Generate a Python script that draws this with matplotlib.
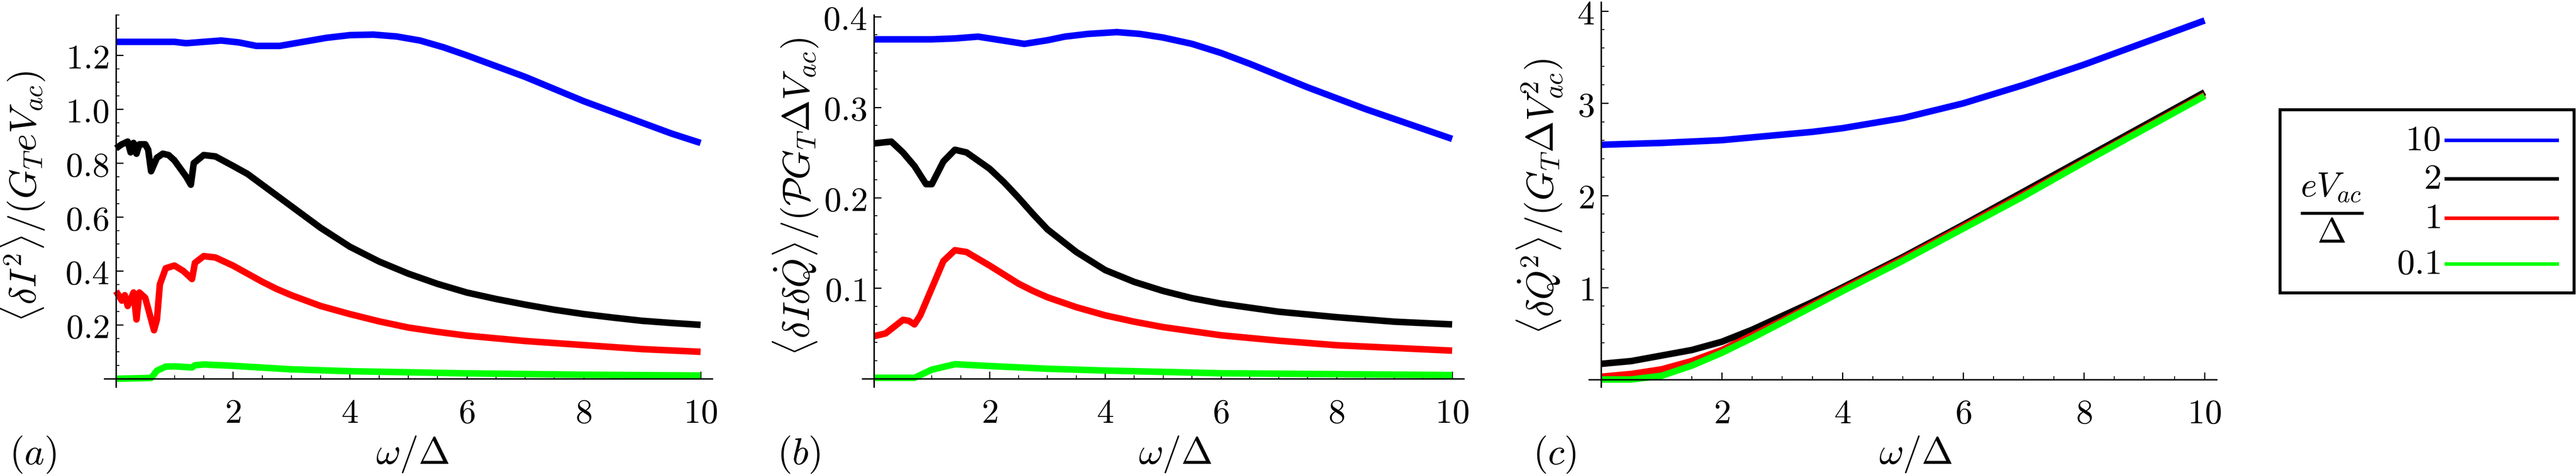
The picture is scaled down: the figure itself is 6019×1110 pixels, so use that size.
import matplotlib
matplotlib.use("Agg")
import matplotlib.pyplot as plt
from matplotlib.ticker import MultipleLocator, FuncFormatter
from matplotlib.lines import Line2D

plt.rcParams['mathtext.fontset'] = 'cm'
plt.rcParams['font.family'] = 'serif'
plt.rcParams['font.serif'] = ['DejaVu Serif']

legend_labels = ["10", "2", "1", "0.1"]
colors = ["#0000ff", "#000000", "#ff0000", "#00ff00"]

# Panel (a)
a_blue_x = [0, 0.5, 1, 1.2, 1.5, 1.8, 2.1, 2.4, 2.8, 3.2, 3.6, 4.0, 4.4, 4.8, 5.2, 5.6, 6, 6.5, 7, 7.5, 8, 8.5, 9, 9.5, 10]
a_blue_y = [1.25, 1.25, 1.25, 1.245, 1.25, 1.255, 1.248, 1.235, 1.235, 1.25, 1.265, 1.275, 1.277, 1.27, 1.255, 1.23, 1.2, 1.16, 1.12, 1.075, 1.03, 0.99, 0.95, 0.91, 0.875]
a_black_x = [0, 0.1, 0.2, 0.25, 0.3, 0.35, 0.4, 0.5, 0.55, 0.6, 0.7, 0.8, 0.9, 1.0, 1.2, 1.28, 1.33, 1.5, 1.7, 2, 2.25, 2.5, 2.75, 3, 3.25, 3.5, 3.75, 4, 4.5, 5, 5.5, 6, 6.5, 7, 7.5, 8, 8.5, 9, 9.5, 10]
a_black_y = [0.855, 0.87, 0.88, 0.84, 0.875, 0.835, 0.87, 0.87, 0.85, 0.77, 0.82, 0.835, 0.83, 0.81, 0.75, 0.72, 0.8, 0.83, 0.825, 0.79, 0.76, 0.72, 0.68, 0.64, 0.6, 0.56, 0.525, 0.49, 0.435, 0.39, 0.352, 0.32, 0.296, 0.275, 0.256, 0.24, 0.227, 0.215, 0.207, 0.2]
a_red_x = [0, 0.1, 0.15, 0.2, 0.3, 0.35, 0.4, 0.5, 0.6, 0.65, 0.7, 0.75, 0.85, 1.0, 1.15, 1.3, 1.35, 1.5, 1.7, 2, 2.25, 2.5, 2.75, 3, 3.5, 4, 4.5, 5, 5.5, 6, 7, 8, 9, 10]
a_red_y = [0.325, 0.29, 0.31, 0.27, 0.32, 0.22, 0.32, 0.3, 0.22, 0.18, 0.22, 0.35, 0.41, 0.42, 0.4, 0.37, 0.43, 0.455, 0.45, 0.42, 0.39, 0.36, 0.333, 0.31, 0.27, 0.24, 0.213, 0.19, 0.174, 0.16, 0.14, 0.125, 0.11, 0.1]
a_green_x = [0, 0.6, 0.7, 0.85, 1.0, 1.3, 1.35, 1.5, 2, 3, 4, 6, 8, 10]
a_green_y = [0, 0.003, 0.03, 0.045, 0.046, 0.042, 0.05, 0.053, 0.048, 0.035, 0.028, 0.02, 0.015, 0.012]

# Panel (b)
b_blue_x = [0, 1, 1.4, 1.8, 2.2, 2.6, 3.0, 3.3, 3.7, 4.2, 4.6, 5, 5.5, 6, 6.5, 7, 7.5, 8, 8.5, 9, 9.5, 10]
b_blue_y = [0.375, 0.375, 0.376, 0.378, 0.374, 0.37, 0.374, 0.378, 0.381, 0.383, 0.381, 0.377, 0.37, 0.36, 0.348, 0.335, 0.322, 0.31, 0.298, 0.287, 0.276, 0.265]
b_black_x = [0, 0.3, 0.5, 0.7, 0.9, 1.0, 1.2, 1.4, 1.6, 2, 2.25, 2.5, 2.75, 3, 3.5, 4, 4.5, 5, 5.5, 6, 7, 8, 9, 10]
b_black_y = [0.26, 0.262, 0.25, 0.235, 0.215, 0.215, 0.24, 0.253, 0.25, 0.232, 0.217, 0.2, 0.182, 0.165, 0.14, 0.12, 0.107, 0.097, 0.089, 0.083, 0.074, 0.068, 0.063, 0.06]
b_red_x = [0, 0.2, 0.4, 0.5, 0.6, 0.7, 0.8, 1.0, 1.2, 1.4, 1.6, 2, 2.25, 2.5, 2.75, 3, 3.5, 4, 4.5, 5, 6, 7, 8, 9, 10]
b_red_y = [0.047, 0.05, 0.06, 0.065, 0.064, 0.06, 0.07, 0.1, 0.13, 0.142, 0.14, 0.125, 0.115, 0.105, 0.097, 0.09, 0.079, 0.07, 0.063, 0.057, 0.048, 0.042, 0.037, 0.034, 0.031]
b_green_x = [0, 0.7, 1.0, 1.4, 2, 3, 4, 6, 8, 10]
b_green_y = [0.001, 0.001, 0.01, 0.016, 0.014, 0.011, 0.009, 0.006, 0.005, 0.004]

# Panel (c)
c_x = [0, 0.5, 1, 1.5, 2, 2.5, 3, 3.5, 4, 5, 6, 7, 8, 9, 10]
c_blue_y = [2.55, 2.56, 2.57, 2.585, 2.6, 2.63, 2.66, 2.69, 2.73, 2.84, 3.0, 3.2, 3.42, 3.66, 3.9]
c_black_y = [0.17, 0.2, 0.26, 0.32, 0.41, 0.54, 0.69, 0.84, 1.0, 1.33, 1.68, 2.04, 2.4, 2.76, 3.12]
c_red_y = [0.03, 0.06, 0.11, 0.2, 0.32, 0.48, 0.64, 0.81, 0.98, 1.31, 1.66, 2.01, 2.37, 2.73, 3.09]
c_green_y = [0.0, 0.0, 0.04, 0.15, 0.29, 0.45, 0.62, 0.79, 0.96, 1.29, 1.64, 1.99, 2.36, 2.72, 3.08]

fig = plt.figure(figsize=(60.19, 11.10), dpi=100)

def fmt(v, pos):
    if abs(v) < 1e-9:
        return ""
    return r'$%g$' % v

def style(ax, ylim, ymaj, ymin, ydec):
    ax.set_xlim(-0.2, 10.2)
    ax.set_ylim(*ylim)
    for s in ['top', 'right']:
        ax.spines[s].set_visible(False)
    ax.spines['left'].set_position(('data', 0))
    ax.spines['bottom'].set_position(('data', 0))
    for s in ['left', 'bottom']:
        ax.spines[s].set_linewidth(2.5)
    ax.xaxis.set_major_locator(MultipleLocator(2))
    ax.xaxis.set_minor_locator(MultipleLocator(0.5))
    ax.yaxis.set_major_locator(MultipleLocator(ymaj))
    ax.yaxis.set_minor_locator(MultipleLocator(ymin))
    ax.xaxis.set_major_formatter(FuncFormatter(fmt))
    ax.yaxis.set_major_formatter(FuncFormatter(lambda v, p: "" if abs(v) < 1e-9 else r'$%s$' % (('%.' + str(ydec) + 'f') % v)))
    ax.tick_params(which='major', direction='in', length=12, width=2, labelsize=58, pad=12)
    ax.tick_params(which='minor', direction='in', length=6, width=1.5)
    ax.tick_params(axis='x', pad=30)
    ax.patch.set_alpha(0)

lw = 11
axa = fig.add_axes([0.0405, 0.1856, 0.236, 0.783])
for xs, ys, c in [(a_blue_x, a_blue_y, colors[0]), (a_black_x, a_black_y, colors[1]), (a_red_x, a_red_y, colors[2]), (a_green_x, a_green_y, colors[3])]:
    axa.plot(xs, ys, color=c, lw=lw, solid_capstyle='butt', solid_joinstyle='round', clip_on=False)
style(axa, (-0.03, 1.35), 0.2, 0.05, 1)

axb = fig.add_axes([0.3348, 0.1856, 0.2334, 0.783])
for xs, ys, c in [(b_blue_x, b_blue_y, colors[0]), (b_black_x, b_black_y, colors[1]), (b_red_x, b_red_y, colors[2]), (b_green_x, b_green_y, colors[3])]:
    axb.plot(xs, ys, color=c, lw=lw, solid_capstyle='butt', solid_joinstyle='round', clip_on=False)
style(axb, (-0.009, 0.402), 0.1, 0.02, 1)

axc = fig.add_axes([0.6169, 0.1856, 0.2436, 0.81])
for ys, c in [(c_blue_y, colors[0]), (c_black_y, colors[1]), (c_red_y, colors[2]), (c_green_y, colors[3])]:
    axc.plot(c_x, ys, color=c, lw=lw, solid_capstyle='butt', solid_joinstyle='round', clip_on=False)
style(axc, (-0.08, 4.1), 1, 0.2, 0)

W, H = 6019.0, 1110.0
fs = 64
ylabels = [r'$\langle \delta I^2\rangle/(G_T e V_{ac})$',
           r'$\langle \delta I \delta \dot{Q}\rangle/(\mathcal{P} G_T \Delta V_{ac})$',
           r'$\langle \delta \dot{Q}^2\rangle/(G_T \Delta V_{ac}^2)$']
ylab_x = [52, 1859, 3598]
plab_x = [77, 1866, 3632]
xlab_x = [964, 2746, 4476]
for i, t in enumerate(['(a)', '(b)', '(c)']):
    fig.text(ylab_x[i] / W, 1 - 460 / H, ylabels[i], rotation=90, ha='center', va='center', fontsize=fs)
    fig.text(plab_x[i] / W, 1 - 1062 / H, r'$%s$' % t, ha='center', va='center', fontsize=fs)
    fig.text(xlab_x[i] / W, 1 - 1062 / H, r'$\omega/\Delta$', ha='center', va='center', fontsize=fs)

# Legend box
fig.patches.append(plt.Rectangle((5327 / W, 1 - 684 / H), (6014 - 5327) / W, (684 - 256) / H,
                                 transform=fig.transFigure, fill=False, lw=5, ec='black'))
fig.text(5449 / W, 1 - 486 / H, r'$\frac{eV_{ac}}{\Delta}$', ha='center', va='center', fontsize=84)
rows = [328, 418, 510, 617]
for lab, c, ry in zip(legend_labels, colors, rows):
    fig.text(5702 / W, 1 - ry / H, r'$%s$' % lab, ha='right', va='center', fontsize=60)
    fig.lines.append(Line2D([5716 / W, 5975 / W], [1 - ry / H, 1 - ry / H], transform=fig.transFigure, color=c, lw=6))

fig.savefig('out.png', dpi=100)
